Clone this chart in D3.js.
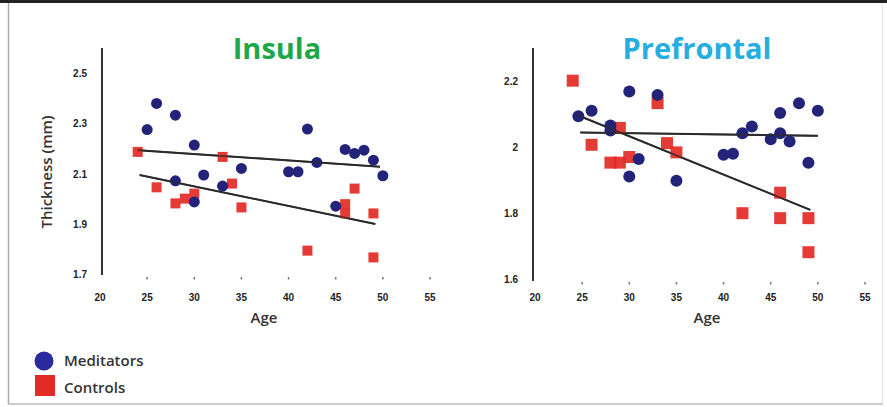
<!DOCTYPE html>
<html><head><meta charset="utf-8">
<script src="https://cdn.jsdelivr.net/npm/d3@7"></script>
<style>body{margin:0;background:#fff}svg{display:block}</style>
</head><body>
<svg id="c" width="887" height="407"></svg>
<script>
// ---- data ----
const xTicks = [20,25,30,35,40,45,50,55];
const insulaYTicks = [1.7,1.9,2.1,2.3,2.5];
const prefYTicks = [1.6,1.8,2.0,2.2];
const prefYLabels = ["1.6","1.8","2","2.2"];
const insulaMedAge = [25,26,28,30,28,31,30,33,35,40,41,42,43,45,46,47,48,49,50];
const insulaMedVal = [2.275,2.379,2.332,2.213,2.071,2.094,1.987,2.05,2.12,2.107,2.107,2.277,2.144,1.97,2.196,2.18,2.193,2.153,2.091];
const insulaCtlAge = [24,26,28,29,30,33,34,35,42,46,46,47,49,49];
const insulaCtlVal = [2.186,2.045,1.981,2.0,2.02,2.166,2.06,1.965,1.793,1.978,1.941,2.04,1.941,1.766];
const insulaMedFit = [[24,2.193],[49.7,2.127]];
const insulaCtlFit = [[24.2,2.094],[49.2,1.899]];
const prefMedAge = [24.6,26,28,28,30,30,31,33,35,40,41,42,43,45,46,46,47,49,48,50];
const prefMedVal = [2.093,2.11,2.065,2.05,2.168,1.911,1.964,2.158,1.898,1.977,1.98,2.042,2.062,2.024,2.103,2.042,2.017,1.953,2.133,2.11];
const prefCtlAge = [24,26,28,29,29,30,33,34,35,42,46,46,49,49];
const prefCtlVal = [2.201,2.007,1.953,1.953,2.058,1.97,2.133,2.012,1.984,1.8,1.862,1.785,1.785,1.682];
const prefMedFit = [[24.8,2.044],[50,2.034]];
const prefCtlFit = [[24.4,2.098],[49.2,1.81]];
const titles = ["Insula","Prefrontal"];
const legendLabels = ["Meditators","Controls"];

// ---- drawing ----
const svg = d3.select("#c");
const MED = "#23237a", CTL = "#e22a26";
const font = "'Open Sans', 'DejaVu Sans', sans-serif";

// frame
svg.append("rect").attr("x",0).attr("y",0).attr("width",887).attr("height",3).attr("fill","#222");
svg.append("line").attr("x1",8.5).attr("x2",8.5).attr("y1",3).attr("y2",404).attr("stroke","#aaa").attr("stroke-width",1.5);
svg.append("line").attr("x1",8).attr("x2",883).attr("y1",404).attr("y2",404).attr("stroke","#bbb").attr("stroke-width",1.5);
svg.append("line").attr("x1",882.5).attr("x2",882.5).attr("y1",3).attr("y2",404).attr("stroke","#e4e4e4").attr("stroke-width",1);

function panel(cfg){
  const x = d3.scaleLinear().domain([20,55]).range(cfg.xr);
  const y = d3.scaleLinear().domain(cfg.yd).range(cfg.yr);
  const g = svg.append("g");
  // y axis line
  g.append("line").attr("x1",cfg.axX).attr("x2",cfg.axX).attr("y1",48).attr("y2",cfg.axBottom)
    .attr("stroke","#333").attr("stroke-width",2);
  // y labels
  g.selectAll(".yl").data(cfg.yTicks).join("text")
    .attr("x",cfg.axX-15).attr("y",d=>y(d)+4).attr("text-anchor","end")
    .attr("font-family","'Liberation Sans', Arial, sans-serif").attr("font-weight","bold")
    .attr("font-size",10).attr("fill","#222").attr("transform-origin",null)
    .text((d,i)=>cfg.yLabels[i]);
  // x tick dots and labels
  g.selectAll(".xd").data(xTicks.slice(1)).join("rect")
    .attr("x",d=>x(d)-0.75).attr("y",cfg.tickY-1).attr("width",1.5).attr("height",2.5).attr("fill","#777");
  g.selectAll(".xl").data(xTicks).join("text")
    .attr("x",d=>x(d)).attr("y",cfg.labY).attr("text-anchor","middle")
    .attr("font-family","'Liberation Sans', Arial, sans-serif").attr("font-weight","bold")
    .attr("font-size",10).attr("fill","#222").text(d=>d);
  // axis title
  g.append("text").attr("x",cfg.ageX).attr("y",323).attr("text-anchor","middle")
    .attr("font-family",font).attr("font-weight",600).attr("font-size",15).attr("fill","#333").text("Age");
  // title
  g.append("text").attr("x",cfg.titleX).attr("y",59).attr("text-anchor","middle")
    .attr("font-family",font).attr("font-weight","bold").attr("font-size",29).attr("fill",cfg.titleColor).text(cfg.title);
  // fit lines
  const line = d3.line().x(d=>x(d[0])).y(d=>y(d[1]));
  [cfg.medFit,cfg.ctlFit].forEach(f=>{
    g.append("path").attr("d",line(f)).attr("stroke","#2a2a2a").attr("stroke-width",2).attr("fill","none");
  });
  // controls squares
  const s = cfg.sq;
  g.selectAll(".c").data(cfg.ctlAge.map((a,i)=>[a,cfg.ctlVal[i]])).join("rect")
    .attr("x",d=>x(d[0])-s/2).attr("y",d=>y(d[1])-s/2).attr("width",s).attr("height",s)
    .attr("fill",CTL).attr("opacity",0.92);
  // meditators circles
  g.selectAll(".m").data(cfg.medAge.map((a,i)=>[a,cfg.medVal[i]])).join("circle")
    .attr("cx",d=>x(d[0])).attr("cy",d=>y(d[1])).attr("r",cfg.r).attr("fill",MED);
  // redraw fit lines on top lightly
  [cfg.medFit,cfg.ctlFit].forEach(f=>{
    g.append("path").attr("d",line(f)).attr("stroke","#2a2a2a").attr("stroke-width",1.6).attr("fill","none").attr("opacity",0.8);
  });
}

panel({xr:[100,430], yd:[1.7,2.5], yr:[274,73], axX:102, axBottom:275, tickY:278, labY:301,
  yTicks:insulaYTicks, yLabels:insulaYTicks.map(d=>d.toFixed(1)), ageX:264, titleX:277, titleColor:"#1fa84b",
  title:titles[0], medAge:insulaMedAge, medVal:insulaMedVal, ctlAge:insulaCtlAge, ctlVal:insulaCtlVal,
  medFit:insulaMedFit, ctlFit:insulaCtlFit, sq:10, r:5.5});
panel({xr:[535,865], yd:[1.6,2.2], yr:[279.3,81], axX:533, axBottom:281, tickY:283, labY:301,
  yTicks:prefYTicks, yLabels:prefYLabels, ageX:707, titleX:697, titleColor:"#27aee0",
  title:titles[1], medAge:prefMedAge, medVal:prefMedVal, ctlAge:prefCtlAge, ctlVal:prefCtlVal,
  medFit:prefMedFit, ctlFit:prefCtlFit, sq:12, r:6});

// y axis title
svg.append("text").attr("transform","translate(52,172) rotate(-90)").attr("text-anchor","middle")
  .attr("font-family",font).attr("font-weight",600).attr("font-size",15).attr("fill","#333").text("Thickness (mm)");

// legend
svg.append("circle").attr("cx",44).attr("cy",361).attr("r",9.5).attr("fill","#2a2a9e");
svg.append("rect").attr("x",35).attr("y",375).attr("width",20).attr("height",21).attr("fill",CTL);
svg.selectAll(".lg").data(legendLabels).join("text")
  .attr("x",64).attr("y",(d,i)=>366+i*27).attr("font-family",font).attr("font-weight",600)
  .attr("font-size",15).attr("fill","#333").text(d=>d);
</script>
</body></html>
